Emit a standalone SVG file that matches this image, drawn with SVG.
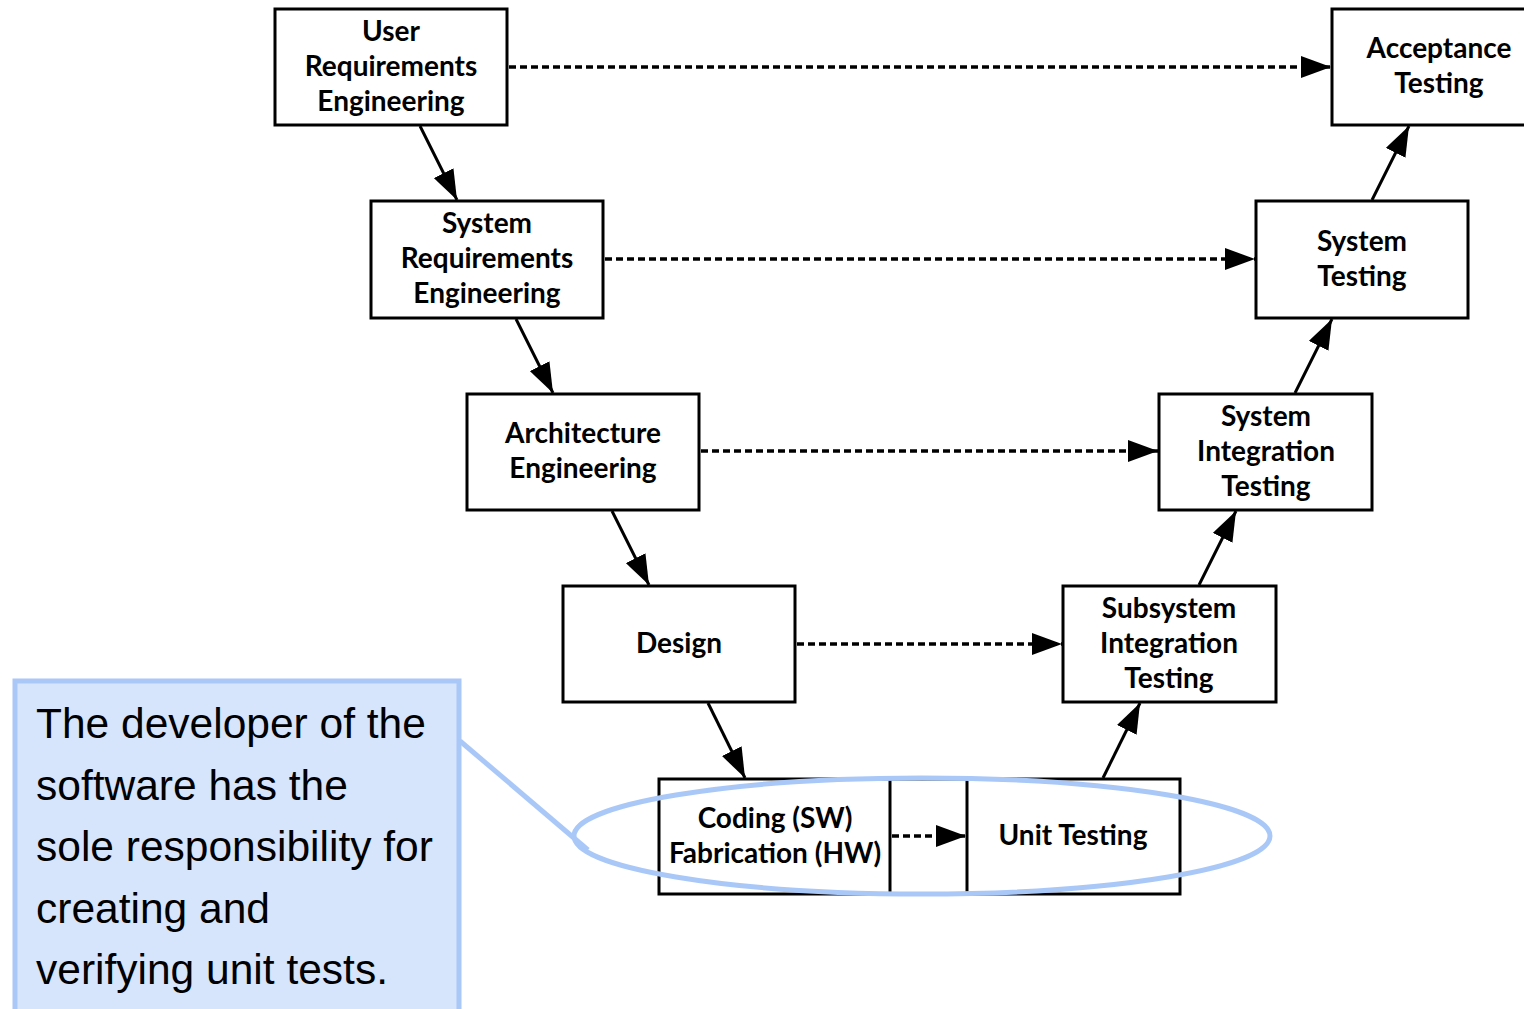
<svg xmlns="http://www.w3.org/2000/svg" width="1524" height="1009" viewBox="0 0 1524 1009">
<style>
.box{fill:#fff;stroke:#000;stroke-width:3}
.t{font-family:Lato,"Open Sans",sans-serif;font-weight:700;font-size:28px;fill:#000;text-anchor:middle}
.solid{stroke:#000;stroke-width:3;fill:none}
.dash{stroke:#000;stroke-width:3.5;fill:none;stroke-dasharray:7 4}
.ct{font-family:"Liberation Sans",Arial,sans-serif;font-size:42.5px;fill:#000}
</style>
<defs>
<marker id="ah" markerUnits="userSpaceOnUse" markerWidth="32" markerHeight="22" refX="30" refY="11" orient="auto">
<path d="M0,0 L30,11 L0,22 Z" fill="#000"/>
</marker>
</defs>
<g id="user-req">
<rect class="box" x="275" y="9" width="232" height="116"/>
<text class="t" x="391" y="41">User</text>
<text class="t" x="391" y="76">Requirements</text>
<text class="t" x="391" y="111">Engineering</text>
</g>
<g id="sys-req">
<rect class="box" x="371" y="201" width="232" height="117"/>
<text class="t" x="487" y="233">System</text>
<text class="t" x="487" y="268">Requirements</text>
<text class="t" x="487" y="303">Engineering</text>
</g>
<g id="arch">
<rect class="box" x="467" y="394" width="232" height="116"/>
<text class="t" x="583" y="443">Architecture</text>
<text class="t" x="583" y="478">Engineering</text>
</g>
<g id="design">
<rect class="box" x="563" y="586" width="232" height="116"/>
<text class="t" x="679" y="653">Design</text>
</g>
<g id="coding-unit">
<rect class="box" x="659" y="779" width="521" height="115"/>
<line class="solid" x1="890" y1="779" x2="890" y2="894"/>
<line class="solid" x1="967" y1="779" x2="967" y2="894"/>
<text class="t" x="775" y="828">Coding (SW)</text>
<text class="t" x="775" y="863">Fabrication (HW)</text>
<text class="t" x="1073" y="845">Unit Testing</text>
</g>
<g id="acceptance">
<rect class="box" x="1332" y="9" width="200" height="116"/>
<text class="t" x="1439" y="58">Acceptance</text>
<text class="t" x="1439" y="93">Testing</text>
</g>
<g id="sys-test">
<rect class="box" x="1256" y="201" width="212" height="117"/>
<text class="t" x="1362" y="251">System</text>
<text class="t" x="1362" y="286">Testing</text>
</g>
<g id="sys-int">
<rect class="box" x="1159" y="394" width="213" height="116"/>
<text class="t" x="1266" y="426">System</text>
<text class="t" x="1266" y="461">Integration</text>
<text class="t" x="1266" y="496">Testing</text>
</g>
<g id="subsys-int">
<rect class="box" x="1063" y="586" width="213" height="116"/>
<text class="t" x="1169" y="618">Subsystem</text>
<text class="t" x="1169" y="653">Integration</text>
<text class="t" x="1169" y="688">Testing</text>
</g>
<g id="connectors">
<line class="solid" x1="420" y1="126" x2="457" y2="200" marker-end="url(#ah)"/>
<line class="solid" x1="516" y1="319" x2="553" y2="393" marker-end="url(#ah)"/>
<line class="solid" x1="612" y1="511" x2="649" y2="585" marker-end="url(#ah)"/>
<line class="solid" x1="708" y1="703" x2="745" y2="778" marker-end="url(#ah)"/>
<line class="solid" x1="1103" y1="778" x2="1140" y2="703" marker-end="url(#ah)"/>
<line class="solid" x1="1199" y1="585" x2="1236" y2="511" marker-end="url(#ah)"/>
<line class="solid" x1="1295" y1="393" x2="1332" y2="319" marker-end="url(#ah)"/>
<line class="solid" x1="1372" y1="200" x2="1409" y2="126" marker-end="url(#ah)"/>
<line class="dash" x1="509" y1="67" x2="1331" y2="67" marker-end="url(#ah)"/>
<line class="dash" x1="605" y1="259" x2="1255" y2="259" marker-end="url(#ah)"/>
<line class="dash" x1="701" y1="451" x2="1158" y2="451" marker-end="url(#ah)"/>
<line class="dash" x1="797" y1="644" x2="1062" y2="644" marker-end="url(#ah)"/>
<line class="dash" x1="892" y1="836" x2="966" y2="836" marker-end="url(#ah)"/>
</g>
<g id="callout">
<ellipse cx="922" cy="836" rx="348" ry="58" fill="none" stroke="#a9c8f8" stroke-width="5"/>
<line x1="460" y1="741" x2="588" y2="850" stroke="#a9c8f8" stroke-width="5"/>
<rect x="15" y="681" width="444" height="332" fill="#d6e4fc" stroke="#a9c8f8" stroke-width="5"/>
<text class="ct" x="36" y="738">The developer of the</text>
<text class="ct" x="36" y="800">software has the</text>
<text class="ct" x="36" y="861">sole responsibility for</text>
<text class="ct" x="36" y="923">creating and</text>
<text class="ct" x="36" y="984">verifying unit tests.</text>
</g>
</svg>
